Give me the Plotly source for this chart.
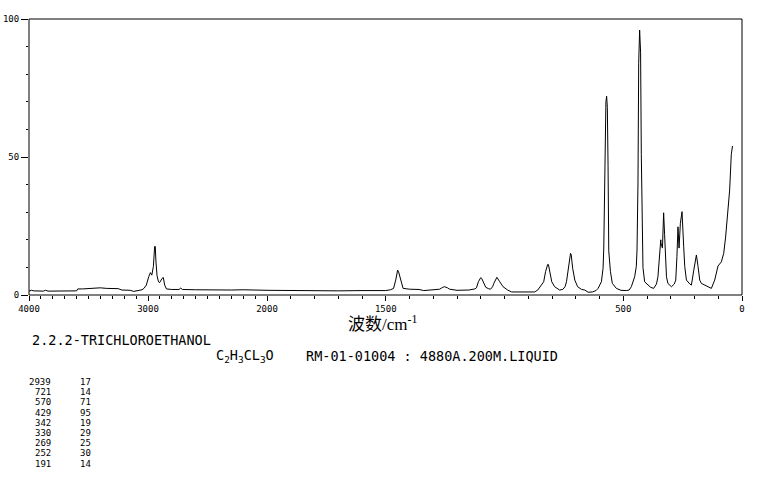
import numpy as np
import plotly.graph_objects as go

# ---------------- data ----------------
WAVENUMBER = [
    4000, 3980, 3960, 3880, 3860, 3840, 3600, 3590, 3550, 3500, 3450, 3400, 3350,
    3250, 3220, 3150, 3120, 3080, 3050, 3034, 3014, 2994, 2980, 2968, 2955, 2944,
    2939, 2933, 2924, 2912, 2902, 2882, 2871, 2860, 2845, 2800, 2740, 2725, 2710,
    2600, 2500, 2300, 2200, 2100, 2000,
    1900, 1800, 1700, 1600, 1500, 1480, 1467, 1458, 1450, 1446, 1434, 1427, 1400,
    1360, 1340, 1290, 1273, 1260, 1252, 1240, 1231, 1200, 1150, 1125, 1118, 1110,
    1100, 1096, 1090, 1079, 1068, 1059, 1050, 1045, 1032, 1028, 1020, 1006, 987,
    970, 920, 873, 860, 852, 835, 827, 818, 815, 810, 801, 789, 768, 755, 745, 739,
    733, 727, 722, 719, 713, 704, 692, 675, 662, 648, 630, 615, 606, 592, 585, 582,
    578, 573, 570, 567, 564, 561, 554, 546, 529, 510, 487, 475, 466, 452, 445, 442,
    438, 435, 431, 427, 424, 421, 417, 410, 396, 385, 372, 367, 360, 354, 350, 342,
    341, 335, 333, 330, 326, 322.5, 318, 312, 304, 297, 285, 279, 274, 269.5, 265,
    259.5, 252.5, 250, 245.5, 241, 234, 220, 213, 203, 196, 192, 185, 178, 171, 150,
    129, 115, 101, 87, 77, 69, 63, 56, 52, 45, 40,
]
INTENSITY = [
    1.4, 1.7, 1.5, 1.4, 1.7, 1.4, 1.5, 2.2, 2.2, 2.4, 2.4, 2.6, 2.4,
    2.3, 1.8, 1.7, 1.3, 1.5, 1.9, 2.4, 3.6, 6.6, 8.1, 7.2, 10.3, 17.6,
    17.6, 12.0, 7.0, 4.8, 4.5, 6.0, 6.3, 3.6, 2.2, 2.0, 2.0, 2.5, 2.0,
    1.9, 1.8, 1.8, 1.9, 1.8, 1.7,
    1.6, 1.7, 1.5, 1.6, 1.6, 1.9, 2.4, 5.4, 9.0, 8.4, 4.2, 2.4, 2.1,
    2.0, 1.6, 1.8, 2.1, 2.8, 3.0, 2.6, 2.1, 1.7, 1.8, 2.2, 2.6, 4.8,
    6.3, 6.0, 4.8, 2.8, 2.3, 2.1, 3.0, 4.2, 6.4, 6.0, 4.8, 3.0, 1.8,
    1.1, 1.0, 1.1, 1.8, 2.7, 4.8, 8.5, 11.1, 11.0, 8.5, 4.8, 3.0, 1.8, 2.0, 3.0, 4.8,
    8.4, 11.2, 15.1, 14.5, 9.7, 5.4, 3.0, 2.0, 1.8, 1.0, 1.1, 1.6, 2.4, 4.8, 9.7, 17.0,
    44.0, 70.0, 72.0, 68.0, 47.0, 16.0, 8.5, 4.2, 2.4, 1.7, 1.6, 1.8, 3.0, 6.6, 10.3, 16.3,
    40.6, 84.0, 96.0, 88.0, 51.0, 23.6, 10.0, 4.8, 3.6, 2.8, 2.4, 3.0, 4.0, 6.6, 11.5, 20.0,
    18.8, 17.0, 23.6, 29.8, 22.0, 13.9, 6.6, 4.2, 3.6, 3.0, 4.0, 5.4, 13.9, 24.7, 17.0,
    26.0, 30.2, 27.0, 17.5, 10.3, 5.4, 4.0, 3.6, 9.0, 13.9, 14.5, 10.3, 5.4, 4.2, 3.3,
    2.4, 5.4, 10.5, 12.0, 15.1, 21.0, 27.0, 34.4, 38.0, 51.0, 54.0,
]

PEAK_WN = [2939, 721, 570, 429, 342, 330, 269, 252, 191]
PEAK_INT = [17, 14, 71, 95, 19, 29, 25, 30, 14]

X_TICKS_HIGH = [4000, 3000]
X_TICKS_LOW = [2000, 1500, 500, 0]
Y_TICKS = [0, 50, 100]

COMPOUND = "2.2.2-TRICHLOROETHANOL"
FORMULA = "C<sub>2</sub>H<sub>3</sub>CL<sub>3</sub>O"
SAMPLE_INFO = "RM-01-01004 : 4880A.200M.LIQUID"
X_TITLE = "波数/cm<sup>-1</sup>"

# ---------------- figure ----------------
W, H = 765, 479
L, R, T, B = 29, 742, 19, 295          # plot-area pixel box
split = (267.3 - 29.3) / (742.3 - 29.3)  # 4000-2000 is drawn at half scale


def px_x(px):
    return (px - L) / (R - L)


def px_y(py):
    return (B - py) / (B - T)


wn = np.array(WAVENUMBER, dtype=float)
it = np.array(INTENSITY, dtype=float)
hi = wn >= 2000
lo = wn <= 2000

mono = "DejaVu Sans Mono"
line = dict(color="black", width=1)

fig = go.Figure()
fig.add_trace(go.Scatter(x=wn[hi], y=it[hi], mode="lines", line=line,
                         xaxis="x", yaxis="y", hoverinfo="skip"))
fig.add_trace(go.Scatter(x=wn[lo], y=it[lo], mode="lines", line=line,
                         xaxis="x2", yaxis="y", hoverinfo="skip"))

axis_common = dict(
    showgrid=False, zeroline=False, showline=False, automargin=False,
    ticks="outside", ticklen=5, tickwidth=1, tickcolor="black",
    tickfont=dict(family=mono, size=9, color="black"),
)

fig.update_layout(
    width=W, height=H,
    margin=dict(l=L, r=W - R, t=T, b=H - B, pad=0, autoexpand=False),
    paper_bgcolor="white", plot_bgcolor="white",
    showlegend=False,
    xaxis=dict(
        domain=[0, split], range=[4000, 2000], anchor="y",
        tickmode="array", tickvals=X_TICKS_HIGH,
        ticktext=[str(v) for v in X_TICKS_HIGH],
        minor=dict(tickmode="array", tickvals=list(range(2100, 4000, 100)),
                   ticks="outside", ticklen=3, tickwidth=1, tickcolor="black",
                   showgrid=False),
        **axis_common,
    ),
    xaxis2=dict(
        domain=[split, 1], range=[2000, 0], anchor="y",
        tickmode="array", tickvals=X_TICKS_LOW,
        ticktext=[str(v) for v in X_TICKS_LOW],
        minor=dict(tickmode="array", tickvals=list(range(100, 2000, 100)),
                   ticks="outside", ticklen=3, tickwidth=1, tickcolor="black",
                   showgrid=False),
        **axis_common,
    ),
    yaxis=dict(
        range=[0, 100], anchor="x", automargin=False,
        tickmode="array", tickvals=Y_TICKS,
        ticktext=[str(v) for v in Y_TICKS],
        minor=dict(tickmode="array", tickvals=list(range(10, 100, 10)),
                   ticks="outside", ticklen=2, tickwidth=1, tickcolor="black",
                   showgrid=False),
        showgrid=False, zeroline=False, showline=False,
        ticks="outside", ticklen=7, tickwidth=1, tickcolor="black",
        tickfont=dict(family=mono, size=9, color="black"),
    ),
)

# frame around the plot area
fig.add_shape(type="rect", xref="paper", yref="paper", x0=0, x1=1, y0=0, y1=1,
              line=dict(color="black", width=1), layer="above")

ann = []
ann.append(dict(text=X_TITLE, x=px_x(382), y=px_y(323), xanchor="center",
                yanchor="middle",
                font=dict(family="Liberation Serif, Noto Sans CJK SC", size=17,
                          color="black")))
ann.append(dict(text=COMPOUND, x=px_x(30), y=px_y(340), xanchor="left",
                yanchor="middle", font=dict(family=mono, size=13.5, color="black")))
ann.append(dict(text=FORMULA, x=px_x(214), y=px_y(356), xanchor="left",
                yanchor="middle", font=dict(family=mono, size=13.5, color="black")))
ann.append(dict(text=SAMPLE_INFO, x=px_x(304), y=px_y(356), xanchor="left",
                yanchor="middle", font=dict(family=mono, size=13.5, color="black")))
for i, (p, v) in enumerate(zip(PEAK_WN, PEAK_INT)):
    yy = px_y(382 + 10.2 * i)
    ann.append(dict(text=str(p), x=px_x(52), y=yy, xanchor="right", borderpad=0,
                    yanchor="middle", font=dict(family=mono, size=9, color="black")))
    ann.append(dict(text=str(v), x=px_x(92), y=yy, xanchor="right", borderpad=0,
                    yanchor="middle", font=dict(family=mono, size=9, color="black")))

for a in ann:
    a.update(xref="paper", yref="paper", showarrow=False)
fig.update_layout(annotations=ann)

fig.write_html(
    "out.html",
    config={"displayModeBar": False, "staticPlot": True},
    post_script="document.body.style.margin='0';document.body.style.overflow='hidden';",
)
